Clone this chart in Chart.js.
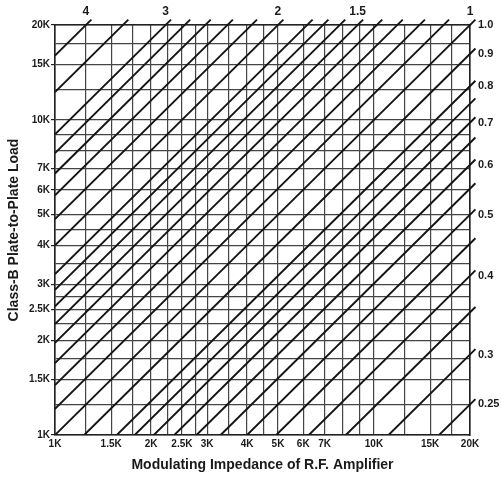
<!DOCTYPE html>
<html lang="en">
<head>
    <meta charset="UTF-8">
    <title>Class-B Plate-to-Plate Load</title>
    <script src="https://cdn.jsdelivr.net/npm/chart.js"></script>
    <style>
        body { margin: 0; background: #fff; }
    </style>
</head>
<body>
<canvas id="chart" width="502" height="479"></canvas>
<script>
    // impedance grid (ohms) used on both axes
    const gridValues = [1000, 1250, 1500, 1750, 2000, 2250, 2500, 2750, 3000, 3500, 4000, 4500,
        5000, 6000, 7000, 8000, 9000, 10000, 12500, 15000, 17500, 20000];
    const labeledValues = [1000, 1500, 2000, 2500, 3000, 4000, 5000, 6000, 7000, 10000, 15000, 20000];
    const valueLabels = ['1K', '1.5K', '2K', '2.5K', '3K', '4K', '5K', '6K', '7K', '10K', '15K', '20K'];

    // transformer turns ratios, one diagonal line each
    const turnsRatios = [4, 3.5, 3, 2.8, 2.6, 2.4, 2.2, 2, 1.8, 1.7, 1.6, 1.5, 1.4, 1.3, 1.2, 1.1, 1,
        0.9, 0.8, 0.75, 0.7, 0.65, 0.6, 0.55, 0.5, 0.45, 0.4, 0.35, 0.3, 0.25];

    const topRatios = [4, 3, 2, 1.5, 1];
    const topLabels = ['4', '3', '2', '1.5', '1'];
    const rightRatios = [1.0, 0.9, 0.8, 0.7, 0.6, 0.5, 0.4, 0.3, 0.25];
    const rightLabels = ['1.0', '0.9', '0.8', '0.7', '0.6', '0.5', '0.4', '0.3', '0.25'];

    const MIN = 1000, MAX = 20000, EXT = 1.04;
    const tickFont = { family: 'Liberation Sans', size: 10, weight: 'bold' };
    const titleFont = { family: 'Liberation Sans', size: 14, weight: 'bold' };

    const datasets = turnsRatios.map(n => {
        const r = n * n;
        let start, end;
        if (r >= 1) {
            start = { x: MIN, y: MIN * r };
            end = { x: MAX / r, y: MAX };
        } else {
            start = { x: MIN / r, y: MIN };
            end = { x: MAX, y: MAX * r };
        }
        // run a little past the frame, like the tick marks in the print
        end = { x: end.x * EXT, y: end.y * EXT };
        return {
            data: [start, end],
            borderColor: '#141414',
            borderWidth: 1.9,
            pointRadius: 0,
            showLine: true,
            clip: { left: 0, bottom: 0, top: 7, right: 7 }
        };
    });

    const labelFor = v => {
        const i = labeledValues.indexOf(v);
        return i < 0 ? '' : valueLabels[i];
    };

    new Chart(document.getElementById('chart'), {
        type: 'scatter',
        data: { datasets },
        options: {
            responsive: false,
            animation: false,
            layout: { padding: 0 },
            plugins: { legend: { display: false }, tooltip: { enabled: false } },
            scales: {
                x: {
                    type: 'logarithmic',
                    min: MIN, max: MAX,
                    afterBuildTicks: s => { s.ticks = gridValues.map(v => ({ value: v })); },
                    afterFit: s => { s.height = 44; },
                    ticks: {
                        autoSkip: false, maxRotation: 0, minRotation: 0,
                        padding: 3, color: '#1a1a1a', font: tickFont,
                        callback: v => labelFor(v)
                    },
                    grid: { color: '#444', lineWidth: 1.2, drawTicks: false },
                    border: { color: '#222', width: 1.6 },
                    title: {
                        display: true, text: 'Modulating Impedance of R.F. Amplifier',
                        color: '#1a1a1a', font: titleFont, padding: { top: 0, bottom: 5 }
                    }
                },
                y: {
                    type: 'logarithmic',
                    min: MIN, max: MAX,
                    afterBuildTicks: s => { s.ticks = gridValues.map(v => ({ value: v })); },
                    afterFit: s => { s.width = 55; },
                    ticks: {
                        autoSkip: false, padding: 1, color: '#1a1a1a', font: tickFont,
                        callback: v => labelFor(v)
                    },
                    grid: {
                        color: '#444', lineWidth: 1.2, tickLength: 4,
                        tickColor: c => labeledValues.includes(c.tick && c.tick.value) ? '#222' : 'rgba(0,0,0,0)'
                    },
                    border: { color: '#222', width: 1.6 },
                    title: {
                        display: true, text: 'Class-B Plate-to-Plate Load',
                        color: '#1a1a1a', font: titleFont, padding: { top: 6, bottom: 0 }
                    }
                },
                x2: {
                    type: 'logarithmic',
                    position: 'top',
                    min: MIN, max: MAX,
                    afterBuildTicks: s => { s.ticks = topRatios.map(n => ({ value: MAX / (n * n) })); },
                    afterFit: s => { s.height = 25; },
                    ticks: {
                        autoSkip: false, maxRotation: 0, minRotation: 0, padding: 6,
                        color: '#1a1a1a', font: { family: 'Liberation Sans', size: 12, weight: 'bold' },
                        callback: (v, i) => topLabels[i]
                    },
                    grid: { display: false, drawOnChartArea: false, drawTicks: false },
                    border: { color: '#222', width: 1.6 }
                },
                y2: {
                    type: 'logarithmic',
                    position: 'right',
                    min: MIN, max: MAX,
                    afterBuildTicks: s => { s.ticks = rightRatios.map(n => ({ value: MAX * n * n })); },
                    afterFit: s => { s.width = 32; },
                    ticks: {
                        autoSkip: false, padding: 8, color: '#1a1a1a',
                        font: { family: 'Liberation Sans', size: 11, weight: 'bold' },
                        callback: (v, i) => rightLabels[i]
                    },
                    grid: { display: false, drawOnChartArea: false, drawTicks: false },
                    border: { color: '#222', width: 1.6 }
                }
            }
        }
    });
</script>
</body>
</html>
